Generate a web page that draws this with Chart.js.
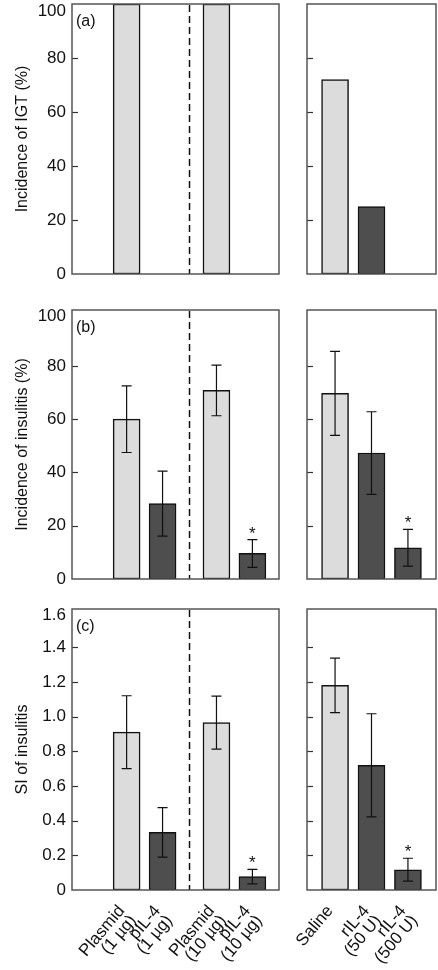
<!DOCTYPE html>
<html>
<head>
<meta charset="utf-8">
<script src="https://cdn.jsdelivr.net/npm/chart.js@4.4.1/dist/chart.umd.min.js"></script>
<style>
  html, body { margin: 0; padding: 0; background: #fff; }
  body { position: relative; width: 438px; height: 970px; overflow: hidden; }
  canvas { position: absolute; }
</style>
</head>
<body>
<canvas id="aLeft"></canvas>
<canvas id="aRight"></canvas>
<canvas id="bLeft"></canvas>
<canvas id="bRight"></canvas>
<canvas id="cLeft"></canvas>
<canvas id="cRight"></canvas>
<script>
"use strict";

// groups: plasmid injections (left panels), recombinant protein (right panels)
var plasmidLabels = [['Plasmid', '(1 µg)'], ['pIL-4', '(1 µg)'], ['Plasmid', '(10 µg)'], ['pIL-4', '(10 µg)']];
var proteinLabels = [['Saline'], ['rIL-4', '(50 U)'], ['rIL-4', '(500 U)']];

// (a) incidence of IGT (%)
var igtPlasmid = [100, 0, 100, 0];
var igtProtein = [72, 25, 0];

// (b) incidence of insulitis (%), mean and error
var insPlasmid = [60, 28.3, 70.8, 9.6];
var insPlasmidErr = [12.5, 12.2, 9.5, 5.2];
var insProtein = [69.7, 47.3, 11.7];
var insProteinErr = [15.8, 15.5, 6.9];

// (c) SI of insulitis, mean and error
var siPlasmid = [0.91, 0.332, 0.965, 0.077];
var siPlasmidErr = [0.21, 0.143, 0.153, 0.042];
var siProtein = [1.18, 0.719, 0.117];
var siProteinErr = [0.157, 0.297, 0.066];

// * = significant difference
var starPlasmid = [false, false, false, true];
var starProtein = [false, false, true];

var pctTicks = [0, 20, 40, 60, 80, 100];
var siTicks = [0, 0.2, 0.4, 0.6, 0.8, 1.0, 1.2, 1.4, 1.6];

Chart.defaults.font.family = '"Liberation Sans", Arial, Helvetica, sans-serif';
Chart.defaults.color = '#111';

var LIGHT = '#dcdcdc';
var DARK = '#4e4e4e';
var INK = '#111';

// page geometry of each plot box; topShift nudges the top tick label down
var rows = {
    a: { top: 4, bottom: 274, topShift: 7 },
    b: { top: 310, bottom: 579, topShift: 3.5 },
    c: { top: 609, bottom: 890, topShift: 3 }
};

var panelPlugin = {
    id: 'panel',
    beforeDatasetsDraw: function(chart, args, o) {
        if (o.divider == null) return;
        var ctx = chart.ctx, a = chart.chartArea;
        var x = chart.scales.x.getPixelForValue(o.divider);
        ctx.save();
        ctx.strokeStyle = INK;
        ctx.lineWidth = 1.5;
        ctx.setLineDash([7, 4]);
        ctx.beginPath();
        ctx.moveTo(x, a.top + 1);
        ctx.lineTo(x, a.bottom);
        ctx.stroke();
        ctx.restore();
    },
    afterDatasetsDraw: function(chart, args, o) {
        var ctx = chart.ctx, a = chart.chartArea;
        var y = chart.scales.y;
        var bars = chart.getDatasetMeta(0).data;
        var vals = chart.data.datasets[0].data;
        ctx.save();

        // error bars and stars
        ctx.strokeStyle = INK;
        ctx.fillStyle = INK;
        ctx.lineWidth = 1.2;
        (o.errors || []).forEach(function(e, i) {
            var x = bars[i].x, v = vals[i].y;
            var yt = y.getPixelForValue(v + e), yb = y.getPixelForValue(v - e);
            ctx.beginPath();
            ctx.moveTo(x, yt); ctx.lineTo(x, yb);
            ctx.moveTo(x - 5, yt); ctx.lineTo(x + 5, yt);
            ctx.moveTo(x - 5, yb); ctx.lineTo(x + 5, yb);
            ctx.stroke();
            if (o.stars && o.stars[i]) {
                ctx.font = '17px "Liberation Sans", Arial, sans-serif';
                ctx.textAlign = 'center';
                ctx.textBaseline = 'alphabetic';
                ctx.fillText('*', x, yt - 1);
            }
        });

        // inward tick marks
        ctx.lineWidth = 1.2;
        ctx.strokeStyle = '#333';
        o.ticks.slice(1, -1).forEach(function(t) {
            var ty = Math.round(y.getPixelForValue(t)) + 0.5;
            ctx.beginPath();
            ctx.moveTo(a.left, ty); ctx.lineTo(a.left + 6, ty);
            ctx.stroke();
        });

        // frame
        ctx.strokeStyle = '#555';
        ctx.lineWidth = 1.5;
        ctx.strokeRect(a.left, a.top, a.right - a.left, a.bottom - a.top);

        if (o.tag) {
            ctx.fillStyle = INK;
            ctx.font = '16px "Liberation Sans", Arial, sans-serif';
            ctx.textAlign = 'left';
            ctx.textBaseline = 'middle';
            ctx.fillText(o.tag, a.left + 4, a.top + 18);
        }
        ctx.restore();
    }
};

function fmtTick(v) {
    if (v === 0) return '0';
    return Number.isInteger(v) && v >= 10 ? String(v) : v.toFixed(1);
}

function makePanel(id, row, side, labels, values, errors, stars, ticks, yMax, title, tag) {
    var r = rows[row];
    var isLeft = side === 'left';
    var showX = row === 'c';
    var padT = 10, padB = showX ? 0 : 6, xH = showX ? 80 : 0;
    var padL = isLeft ? 0 : 17, padR = 2;
    var yW = isLeft ? 72 : 0;
    var width = isLeft ? 281 : 148;
    var height = padT + (r.bottom - r.top) + xH + padB;
    var topTick = ticks[ticks.length - 1];

    // left panels: two pairs with a wider gap between them
    var xs = labels.map(function(l, i) { return isLeft && i >= 2 ? i + 0.5 : i; });
    var xMin = isLeft ? -1.52 : -0.77;
    var xMax = isLeft ? 4.24 : 2.77;

    var canvas = document.getElementById(id);
    canvas.width = width;
    canvas.height = height;
    canvas.style.left = (isLeft ? 0 : 290) + 'px';
    canvas.style.top = (r.top - padT) + 'px';

    return new Chart(canvas, {
        type: 'bar',
        data: {
            datasets: [{
                data: values.map(function(v, i) { return { x: xs[i], y: v }; }),
                backgroundColor: labels.map(function(l) {
                    return l[0] === 'Plasmid' || l[0] === 'Saline' ? LIGHT : DARK;
                }),
                borderColor: INK,
                borderWidth: 1.5,
                borderSkipped: false,
                barThickness: 27
            }]
        },
        options: {
            responsive: false,
            animation: false,
            devicePixelRatio: 1,
            layout: { padding: { top: padT, bottom: padB, left: padL, right: padR } },
            plugins: {
                legend: { display: false },
                tooltip: { enabled: false },
                panel: {
                    errors: errors,
                    stars: stars,
                    ticks: ticks,
                    tag: tag,
                    divider: isLeft ? (xs[1] + xs[2]) / 2 : null
                }
            },
            scales: {
                x: {
                    type: 'linear',
                    min: xMin,
                    max: xMax,
                    offset: false,
                    display: showX,
                    grid: { display: false, drawTicks: false, offset: false },
                    border: { display: false },
                    afterBuildTicks: function(s) { s.ticks = xs.map(function(v) { return { value: v }; }); },
                    afterFit: function(s) { s.height = xH; s.paddingLeft = 0; s.paddingRight = 0; },
                    ticks: {
                        autoSkip: false,
                        minRotation: 50,
                        maxRotation: 50,
                        padding: 13,
                        labelOffset: -5,
                        font: { size: 17, lineHeight: 0.9 },
                        callback: function(v, i) { return labels[i]; }
                    }
                },
                y: {
                    min: 0,
                    max: yMax,
                    display: isLeft,
                    grid: { display: false, drawTicks: false },
                    border: { display: false },
                    afterBuildTicks: function(s) { s.ticks = ticks.map(function(v) { return { value: v }; }); },
                    afterFit: function(s) { s.width = yW; s.paddingTop = 0; s.paddingBottom = 0; },
                    ticks: {
                        padding: 6,
                        font: { size: 17, lineHeight: (2 * r.topShift) + 'px' },
                        callback: function(v) {
                            // the top label sits a little below its tick, inside the figure
                            return v === topTick ? ['', fmtTick(v)] : fmtTick(v);
                        }
                    },
                    title: {
                        display: isLeft,
                        text: title,
                        padding: { top: 13, bottom: 0 },
                        font: { size: 16 }
                    }
                }
            }
        },
        plugins: [panelPlugin]
    });
}

makePanel('aLeft', 'a', 'left', plasmidLabels, igtPlasmid, null, null, pctTicks, 100, 'Incidence of IGT (%)', '(a)');
makePanel('aRight', 'a', 'right', proteinLabels, igtProtein, null, null, pctTicks, 100, '', null);
makePanel('bLeft', 'b', 'left', plasmidLabels, insPlasmid, insPlasmidErr, starPlasmid, pctTicks, 101, 'Incidence of insulitis (%)', '(b)');
makePanel('bRight', 'b', 'right', proteinLabels, insProtein, insProteinErr, starProtein, pctTicks, 101, '', null);
makePanel('cLeft', 'c', 'left', plasmidLabels, siPlasmid, siPlasmidErr, starPlasmid, siTicks, 1.62, 'SI of insulitis', '(c)');
makePanel('cRight', 'c', 'right', proteinLabels, siProtein, siProteinErr, starProtein, siTicks, 1.62, '', null);
</script>
</body>
</html>
